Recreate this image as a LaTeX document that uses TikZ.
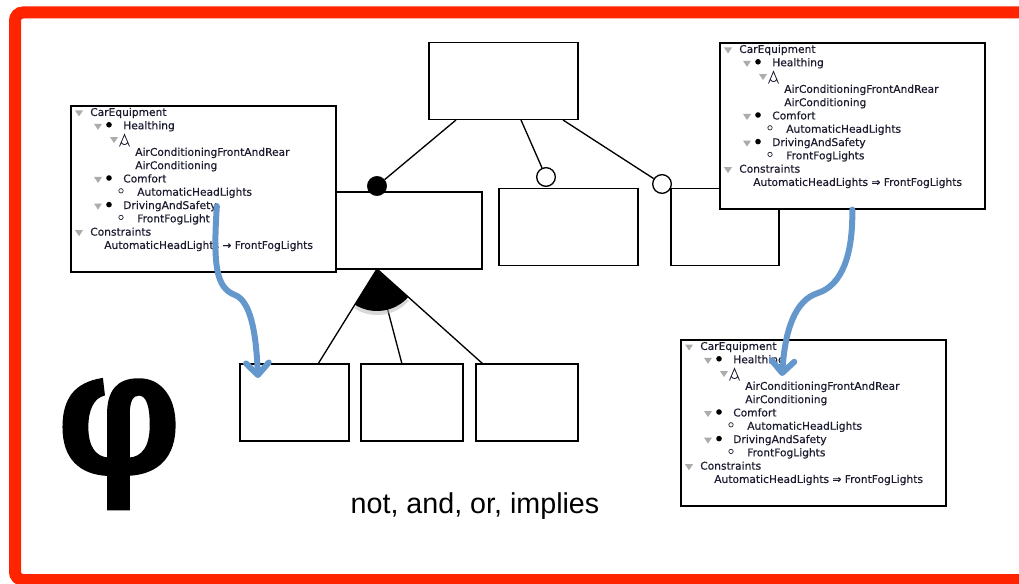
\documentclass[tikz,border=0pt]{standalone}
\usepackage{fontspec}
\setmainfont{Liberation Sans}
\newfontfamily\treefam{DejaVu Sans}[FakeBold=0.4]
\newfontfamily\phifam{Liberation Sans}[FakeBold=1.5]
\usetikzlibrary{arrows.meta}
\definecolor{framered}{RGB}{255,36,0}
\definecolor{linkblue}{RGB}{100,152,205}
\definecolor{treeink}{RGB}{28,28,48}
\tikzset{
  fbox/.style={draw, line width=1.2pt, fill=white, inner sep=0pt, minimum height=58pt},
  treebox/.style={draw, line width=1.2pt, fill=white, inner sep=0pt, anchor=north west,
    minimum width=198.75pt, minimum height=124.5pt},
  treetext/.style={anchor=west, inner sep=0pt, text=treeink,
    font={\treefam\fontsize{8}{9.6}\selectfont}, text height=6pt, text depth=1.6pt},
  fold/.style={fill=gray!65},
  mandatory/.style={circle, draw, fill=black, inner sep=0pt, minimum size=14.5pt},
  optional/.style={circle, draw, line width=1pt, fill=white, inner sep=0pt, minimum size=14pt},
  link/.style={draw=linkblue, line width=4.5pt, line cap=round,
    -{Straight Barb[length=9pt,width=17pt,round]}},
}
\newcommand\carequipment[5]{%
  \begin{scope}[shift={(#2,#3)}]
    \node[treebox] (#1) at (-9,0) {};
    \foreach \lbl/\xx/\row in {CarEquipment/11/0, Healthing/44/1,
        AirConditioningFrontAndRear/56/3, AirConditioning/56/4, Comfort/44/5,
        AutomaticHeadLights/58/6, DrivingAndSafety/44/7, #4/58/8, Constraints/11/9}
      \node[treetext] (#1-\row) at (\xx,{8+13.3*\row}) {\lbl};
    \node[treetext] (#1-10) at (25,141) {AutomaticHeadLights #5 FrontFogLights};
    \foreach \xx/\row in {0/0, 19/1, 35/2, 19/5, 19/7, 0/9}
      \fill[fold] (\xx-4,{8+13.3*\row-2.5}) -- ++(8,0) -- ++(-4,6) -- cycle;
    \foreach \row in {1,5,7}
      \fill[black] (30,{8+13.3*\row-1.5}) circle[radius=2.8];
    \foreach \row in {6,8}
      \draw[treeink, line width=.5pt] (42,{8+13.3*\row-2}) circle[radius=2.2];
    \draw[treeink, line width=.6pt] (40.5,41.5) -- (45.5,29.5) -- (50.5,41.5)
      (42,37) .. controls (44,40.5) and (47,40.5) .. (49,37);
  \end{scope}}

\begin{document}
\begin{tikzpicture}[x=.75pt, y=-.75pt]
  \useasboundingbox (0,0) rectangle (1019,584);
  \draw[framered, line width=9pt, rounded corners=6pt] (15,12.5) rectangle (1032,580);

  \node[fbox, minimum width=111.75pt] (R)  at (503.5,81)  {};
  \node[fbox, minimum width=111.75pt] (F1) at (407.5,230.5) {};
  \node[fbox, minimum width=104.25pt] (F2) at (568.5,227) {};
  \node[fbox, minimum width=81pt]     (F3) at (725,227)   {};
  \node[fbox, minimum width=81.75pt]  (S1) at (294.5,402.5) {};
  \node[fbox, minimum width=76.5pt]   (S2) at (412,402.5) {};
  \node[fbox, minimum width=76.5pt]   (S3) at (527,402.5) {};

  \coordinate (R1) at (456,120);
  \coordinate (R2) at (521,120);
  \coordinate (R3) at (563,120);
  \coordinate (G)  at (377,269);
  \coordinate (G1) at (318,364);
  \coordinate (G2) at (402,364);
  \coordinate (G3) at (483,364);

  \node[mandatory] (D1) at (377,186) {};
  \node[optional]  (D2) at (546,177) {};
  \node[optional]  (D3) at (662,184) {};

  \draw[line width=1pt] (R1) -- (D1) (R2) -- (D2) (R3) -- (D3);
  \draw[line width=1pt] (G) -- (G1) (G) -- (G2) (G) -- (G3);
  \fill[black!30, opacity=.5] ([yshift=-2.5pt]G) -- +(237.9:32pt)
    arc[start angle=237.9, end angle=318.4, radius=32pt] -- cycle;
  \fill (G) -- +(237.9:31.5pt) arc[start angle=237.9, end angle=318.4, radius=31.5pt] -- cycle;

  \carequipment{T1}{79}{105}{FrontFogLight}{→}
  \carequipment{T2}{728}{42}{FrontFogLights}{⇒}
  \carequipment{T3}{689}{339}{FrontFogLights}{⇒}

  \coordinate (L1) at (258,378);
  \coordinate (L2) at (782,376);
  \draw[link] (T1-7.east) .. controls (213,265) and (216,288) .. (235,295)
    .. controls (250,301) and (256,330) .. (L1);
  \draw[link] (T2.south) .. controls (853,255) and (842,285) .. (818,293)
    .. controls (795,300) and (785,330) .. (L2);

  \node[font={\phifam\bfseries\fontsize{130}{130}\selectfont}, anchor=base] (phi) at (119,473) {φ};
  \node[font=\fontsize{21.5}{26}\selectfont, anchor=base] (ops) at (475,513) {not, and, or, implies};
\end{tikzpicture}
\end{document}
